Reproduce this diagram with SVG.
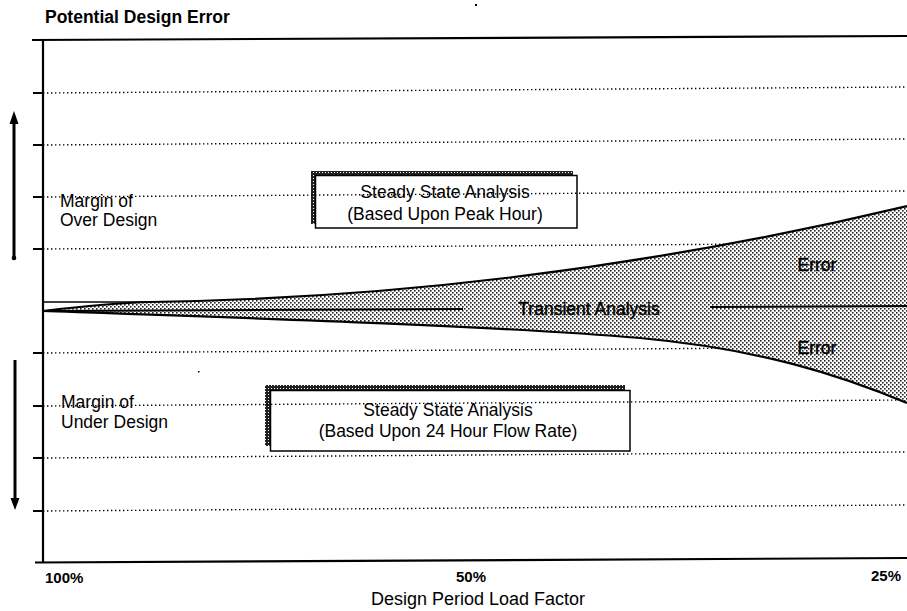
<svg xmlns="http://www.w3.org/2000/svg" width="907" height="611" viewBox="0 0 907 611">
  <style>
    .t { font-family: "Liberation Sans", Arial, Helvetica, sans-serif; fill: #000; }
    .lbl { font-size: 17.5px; }
    .bold { font-weight: bold; }
    .heavy { stroke: #000; stroke-width: 0.45; }
    .grid { stroke: #000; stroke-width: 1.4; stroke-dasharray: 1.4 2.6; fill: none; }
    .tick { stroke: #000; stroke-width: 2; }
    .axis { stroke: #000; stroke-width: 2.2; fill: none; }
    .edge { stroke: #000; stroke-width: 2.2; fill: none; }
    .box { fill: #fff; stroke: #000; stroke-width: 1.5; }
  </style>
  <defs>
    <!-- halftone used for the error band -->
    <pattern id="halftone" width="4" height="4" patternUnits="userSpaceOnUse">
      <rect width="4" height="4" fill="#fff"/>
      <rect x="0" y="0" width="1.6" height="1.6" fill="#222"/>
      <rect x="2" y="2" width="1.6" height="1.6" fill="#222"/>
    </pattern>
    <!-- dense stipple for the box drop shadows -->
    <pattern id="stipple" width="3" height="3" patternUnits="userSpaceOnUse">
      <rect width="3" height="3" fill="#222"/>
      <rect x="1" y="1" width="1" height="1" fill="#fff"/>
    </pattern>
  </defs>

  <rect width="907" height="611" fill="#fff"/>

  <!-- title -->
  <text class="t lbl bold" x="45" y="23">Potential Design Error</text>

  <!-- frame -->
  <g id="frame">
    <line class="axis" x1="32" y1="40" x2="907" y2="36"/>
    <line class="axis" x1="43" y1="40" x2="43" y2="563"/>
    <line class="axis" x1="35" y1="562.5" x2="907" y2="558"/>
    <g class="tick">
      <line x1="33" y1="93" x2="43" y2="93"/>
      <line x1="33" y1="145" x2="43" y2="145"/>
      <line x1="33" y1="197" x2="43" y2="197"/>
      <line x1="33" y1="249" x2="43" y2="249"/>
      <line x1="33" y1="353" x2="43" y2="353"/>
      <line x1="33" y1="406" x2="43" y2="406"/>
      <line x1="33" y1="458" x2="43" y2="458"/>
      <line x1="33" y1="511" x2="43" y2="511"/>
    </g>
    <!-- zero reference -->
    <line x1="43" y1="302" x2="150" y2="302" stroke="#000" stroke-width="1.5"/>
  </g>

  <!-- box shadows and boxes -->
  <g id="box-peak">
    <rect x="311" y="171" width="262" height="53" fill="url(#stipple)"/>
    <rect class="box" x="315.5" y="175.5" width="261.5" height="52.5"/>
  </g>
  <g id="box-24h">
    <rect x="265" y="385" width="360" height="61" fill="url(#stipple)"/>
    <rect class="box" x="270.5" y="390.5" width="359.5" height="60.5"/>
  </g>

  <!-- dotted gridlines -->
  <g id="gridlines">
    <line class="grid" x1="43" y1="93" x2="907" y2="87"/>
    <line class="grid" x1="43" y1="145" x2="907" y2="139"/>
    <line class="grid" x1="43" y1="197" x2="907" y2="191"/>
    <line class="grid" x1="43" y1="249" x2="907" y2="243"/>
    <line class="grid" x1="43" y1="353" x2="907" y2="347"/>
    <line class="grid" x1="43" y1="406" x2="907" y2="400"/>
    <line class="grid" x1="43" y1="458" x2="907" y2="452"/>
    <line class="grid" x1="43" y1="511" x2="907" y2="505"/>
  </g>

  <!-- error band around the transient analysis -->
  <g id="error-band">
    <path d="M43,311 Q110,303 150,302 Q528.5,296.4 907,206 L907,403 C840,375 760,349 640,338 C500,326 250,318 43,311 Z" fill="url(#halftone)"/>
    <path class="edge" d="M43,311 Q110,303 150,302 Q528.5,296.4 907,206"/>
    <path class="edge" d="M43,311 C250,318 500,326 640,338 C760,349 840,375 907,403"/>
    <line x1="43" y1="311" x2="463" y2="309" stroke="#000" stroke-width="1.8"/>
    <line x1="710" y1="307" x2="907" y2="306" stroke="#000" stroke-width="1.8"/>
    <text class="t lbl heavy" x="589" y="315" text-anchor="middle">Transient Analysis</text>
    <text class="t lbl heavy" x="817" y="271" text-anchor="middle">Error</text>
    <text class="t lbl heavy" x="817" y="354" text-anchor="middle">Error</text>
  </g>

  <!-- box labels -->
  <g id="label-peak">
    <text class="t lbl" x="445" y="198" text-anchor="middle">Steady State Analysis</text>
    <text class="t lbl" x="445" y="220" text-anchor="middle">(Based Upon Peak Hour)</text>
  </g>
  <g id="label-24h">
    <text class="t lbl" x="448" y="416" text-anchor="middle">Steady State Analysis</text>
    <text class="t lbl" x="448" y="437" text-anchor="middle">(Based Upon 24 Hour Flow Rate)</text>
  </g>

  <!-- margin labels and arrows -->
  <g id="over-design">
    <text class="t lbl" x="60" y="207">Margin of</text>
    <text class="t lbl" x="60" y="226">Over Design</text>
    <line x1="14" y1="120" x2="14" y2="258" stroke="#000" stroke-width="3"/>
    <polygon points="14,111 9.5,124 18.5,124" fill="#000"/>
    <circle cx="14" cy="258" r="2.3" fill="#000"/>
  </g>
  <g id="under-design">
    <text class="t lbl" x="61" y="408">Margin of</text>
    <text class="t lbl" x="61" y="428">Under Design</text>
    <line x1="15" y1="360" x2="15" y2="500" stroke="#000" stroke-width="3"/>
    <polygon points="15,510 10.5,498 19.5,498" fill="#000"/>
  </g>

  <!-- x axis labels -->
  <g id="x-labels">
    <text class="t bold" font-size="15" x="45" y="583">100%</text>
    <text class="t bold" font-size="15" x="456" y="582">50%</text>
    <text class="t bold" font-size="15" x="871" y="581">25%</text>
    <text class="t" font-size="18" x="478" y="605" text-anchor="middle">Design Period Load Factor</text>
  </g>

  <!-- specks -->
  <rect x="475" y="4" width="2" height="2" fill="#000"/>
  <rect x="198" y="371" width="1.5" height="1.5" fill="#000"/>
</svg>
